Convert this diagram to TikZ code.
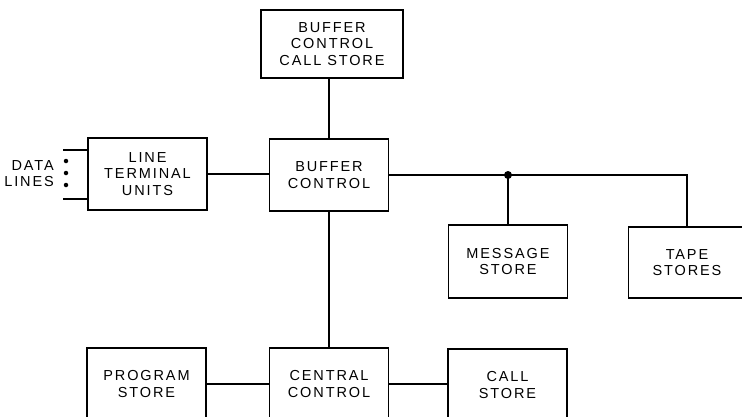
\documentclass[tikz,border=0pt]{standalone}
\usepackage{fontspec}
\newfontfamily\lettering{Liberation Sans}[LetterSpace=13]
\begin{document}
\begin{tikzpicture}[x=1pt,y=-1pt,
  blk/.style={draw, line width=1.4pt, align=center, inner sep=0pt,
    font=\lettering\fontsize{14.5}{16.7}\selectfont, minimum width=119pt, minimum height=72pt},
  wire/.style={line width=2pt},
  lbl/.style={align=right, inner sep=0pt, font=\lettering\fontsize{14.5}{16.7}\selectfont}]
\useasboundingbox (0,0) rectangle (742,416);
\clip (0,0) rectangle (742,416);
% boxes
\node[blk, minimum width=142pt, minimum height=68pt] (bccs) at (332,44) {BUFFER\\CONTROL\\CALL STORE};
\node[blk] (bc) at (329,175) {BUFFER\\CONTROL};
\node[blk] (ltu) at (147.5,174) {LINE\\TERMINAL\\UNITS};
\node[blk, minimum height=73pt] (ms) at (508,261.5) {MESSAGE\\STORE};
\node[blk, minimum width=117pt, minimum height=71pt] (ts) at (687,262.5) {TAPE\\STORES};
\node[blk] (ps) at (146.5,384) {PROGRAM\\STORE};
\node[blk] (cc) at (329,384) {CENTRAL\\CONTROL};
\node[blk] (cs) at (507.5,385) {CALL\\STORE};
% connectors
\draw[wire] (bc.north) -- (bc.north |- bccs.south);
\draw[wire] (bc.south) -- (cc.north);
\draw[wire] (ltu.east) -- (ltu.east -| bc.west);
\draw[wire] (bc.east) -- (ts.north |- bc.east) -- (ts.north);
\coordinate (j) at (ms.north |- bc.east);
\draw[wire] (ms.north) -- (j);
\fill (j) circle (4pt);
\draw[wire] (ps.east) -- (ps.east -| cc.west);
\draw[wire] (cc.east) -- (cc.east -| cs.west);
% data lines
\coordinate (d1) at (63,150);
\coordinate (d2) at (63,199);
\draw[wire] (d1) -- (d1 -| ltu.west);
\draw[wire] (d2) -- (d2 -| ltu.west);
\node[circle, fill, inner sep=0pt, minimum size=4.5pt] (p1) at (66,161) {};
\node[circle, fill, inner sep=0pt, minimum size=4.5pt] (p2) at (66,173) {};
\node[circle, fill, inner sep=0pt, minimum size=4.5pt] (p3) at (66,185) {};
\node[lbl, anchor=east] (dl) at (54,173.5) {DATA\\LINES};
\end{tikzpicture}
\end{document}
